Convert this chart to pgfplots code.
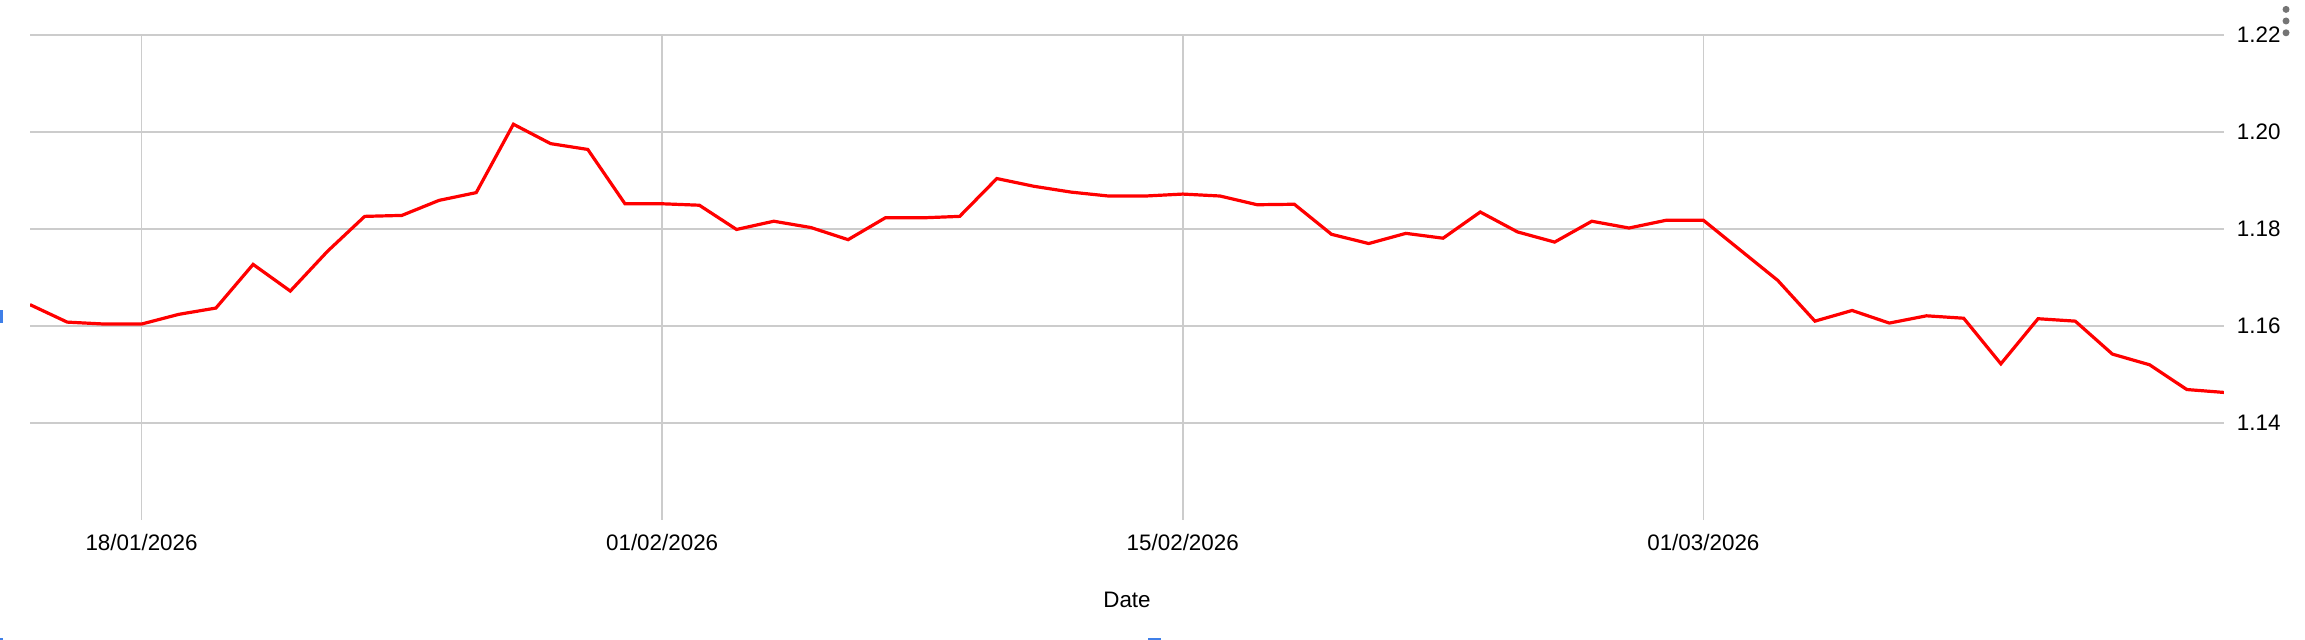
\documentclass[border=0pt]{standalone}
\usepackage{pgfplots}
\pgfplotsset{compat=1.18}
\usepackage{fontspec}
\setmainfont{Liberation Sans}
\definecolor{gridgray}{HTML}{CCCCCC}
\definecolor{dotgray}{HTML}{757575}
\definecolor{handleblue}{HTML}{3F7FE8}
\pgfplotstableread{
d v
15 1.1644
16 1.1608
17 1.1604
18 1.1604
19 1.1624
20 1.1637
21 1.1727
22 1.1672
23 1.1754
24 1.1826
25 1.1828
26 1.1859
27 1.1875
28 1.2016
29 1.1976
30 1.1964
31 1.1852
32 1.1852
33 1.1849
34 1.1799
35 1.1816
36 1.1803
37 1.1778
38 1.1823
39 1.1823
40 1.1826
41 1.1904
42 1.1888
43 1.1876
44 1.1868
45 1.1868
46 1.1872
47 1.1868
48 1.1850
49 1.1851
50 1.1789
51 1.1770
52 1.1791
53 1.1781
54 1.1835
55 1.1794
56 1.1773
57 1.1816
58 1.1802
59 1.1818
60 1.1818
61 1.1756
62 1.1694
63 1.1610
64 1.1632
65 1.1606
66 1.1621
67 1.1616
68 1.1522
69 1.1615
70 1.1610
71 1.1542
72 1.1520
73 1.1469
74 1.1463
}\eurusd
\begin{document}
\begin{tikzpicture}
\useasboundingbox (-15pt,-60pt) rectangle (1137.5pt,260pt);
\begin{axis}[
  at={(0pt,0pt)}, anchor=south west,
  scale only axis, width=1097pt, height=242.5pt,
  xmin=15, xmax=74, ymin=1.12, ymax=1.22,
  axis line style={draw=none},
  major tick length=0pt,
  xtick={18,32,46,60},
  xticklabels={18/01/2026,01/02/2026,15/02/2026,01/03/2026},
  ytick={1.14,1.16,1.18,1.20,1.22},
  yticklabel pos=right,
  grid=major,
  x grid style={gridgray, line width=0.8pt},
  y grid style={gridgray, line width=0.7pt},
  tick label style={font=\fontsize{11.2}{13.4}\selectfont, text=black},
  xticklabel style={anchor=base, inner sep=0pt, yshift=-15.5pt},
  yticklabel style={anchor=west, inner sep=0pt, xshift=6.3pt},
  /pgf/number format/.cd, fixed, fixed zerofill, precision=2, assume math mode=true,
  /pgfplots/.cd,
  xlabel={Date},
  xlabel style={at={(axis description cs:0.5,0)}, anchor=base, inner sep=0pt, yshift=-44pt, font=\fontsize{11.2}{13.4}\selectfont},
]
\addplot[red, line width=1.6pt, line join=miter, mark=none] table[x=d, y=v] {\eurusd};
\end{axis}
\fill[dotgray] (1128pt,255.3pt) circle (1.75pt);
\fill[dotgray] (1128pt,249.5pt) circle (1.75pt);
\fill[dotgray] (1128pt,243.6pt) circle (1.75pt);
\fill[handleblue] (-15pt,98.5pt) rectangle (-13.5pt,105pt);
\fill[handleblue] (-15pt,-60pt) rectangle (-13.5pt,-59pt);
\fill[handleblue] (559pt,-60pt) rectangle (565.5pt,-59pt);
\end{tikzpicture}
\end{document}
